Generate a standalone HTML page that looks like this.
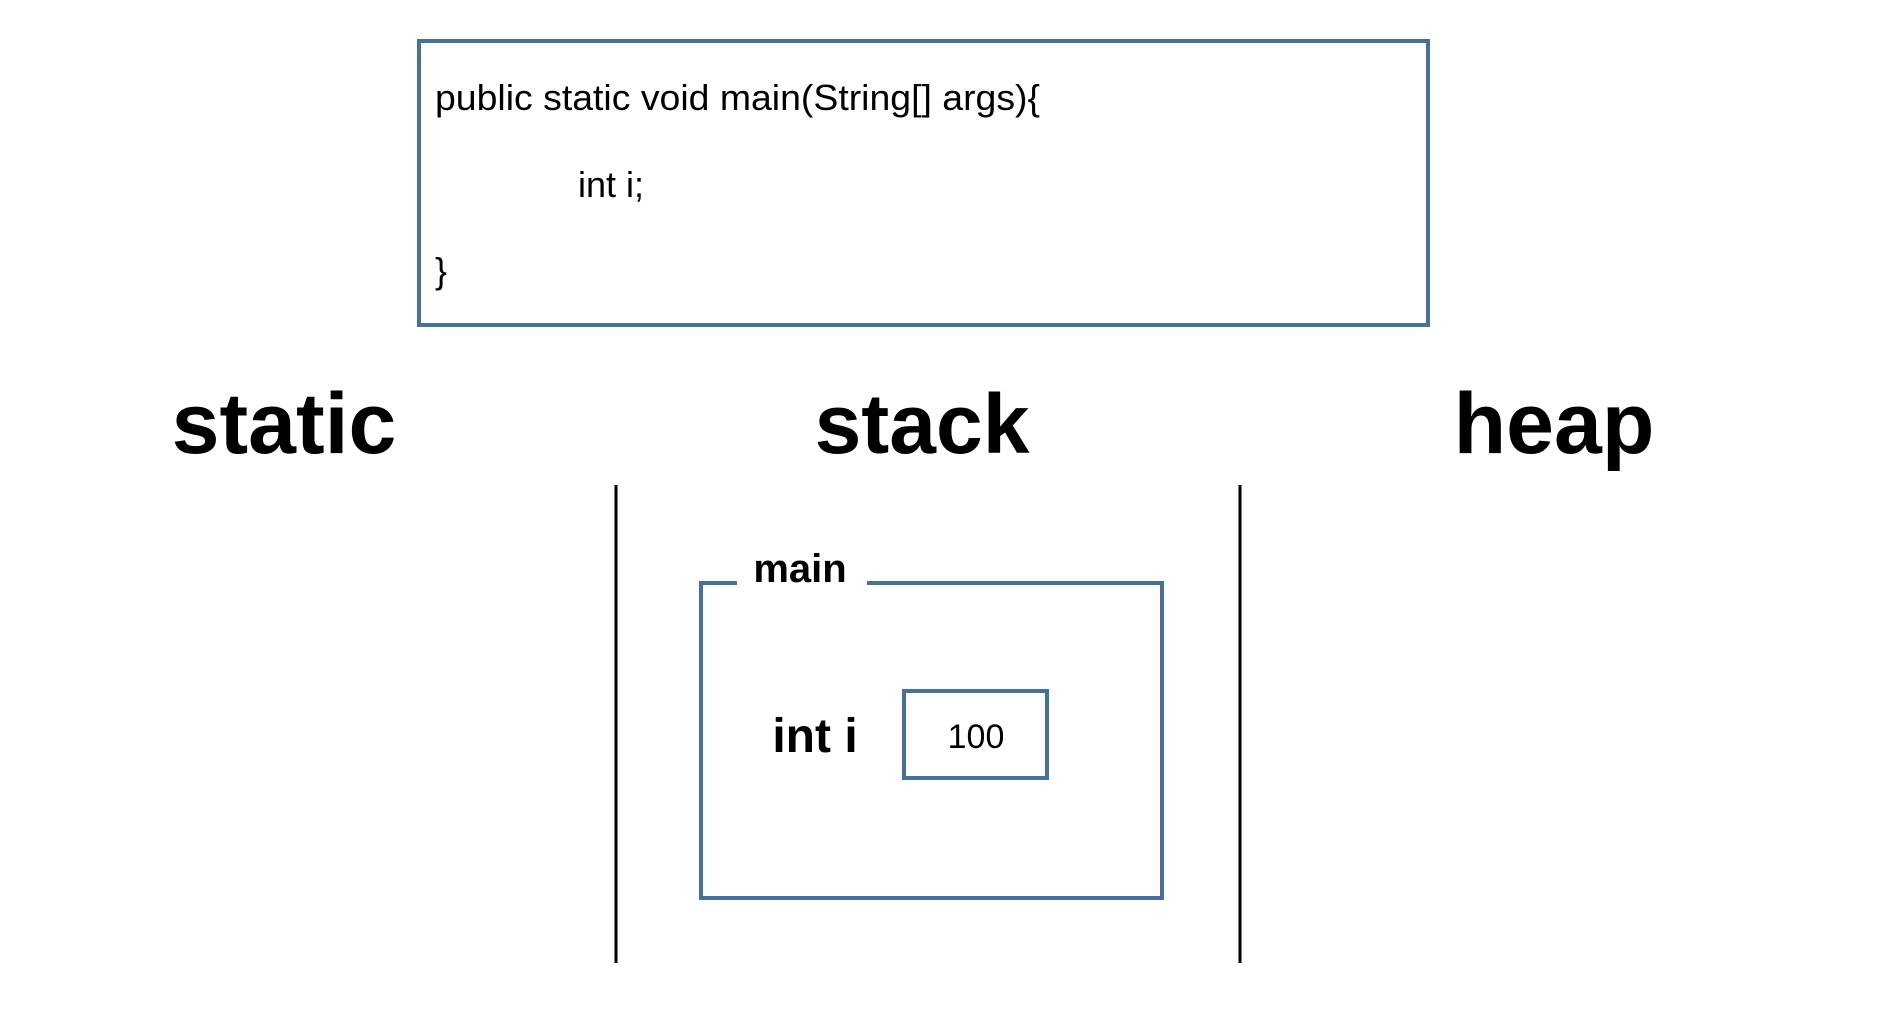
<!DOCTYPE html>
<html><head><meta charset="utf-8"><style>
html,body{margin:0;padding:0;background:#fff;width:1880px;height:1029px;overflow:hidden}
svg{display:block}
</style></head><body>
<svg width="1880" height="1029" xmlns="http://www.w3.org/2000/svg" font-family="Liberation Sans, sans-serif">
<rect x="419" y="41" width="1009" height="284" fill="none" stroke="#45719c" stroke-width="4"/>
<text x="435" y="110" font-size="36" textLength="605" lengthAdjust="spacingAndGlyphs">public static void main(String[] args){</text>
<text x="578" y="197" font-size="36">int i;</text>
<text x="435" y="283" font-size="36">}</text>
<text x="284" y="453" font-size="86" font-weight="bold" text-anchor="middle">static</text>
<text x="922" y="453" font-size="84" font-weight="bold" text-anchor="middle">stack</text>
<text x="1554" y="453" font-size="86" font-weight="bold" text-anchor="middle">heap</text>
<line x1="616" y1="485" x2="616" y2="963" stroke="#000" stroke-width="3"/>
<line x1="1240" y1="485" x2="1240" y2="963" stroke="#000" stroke-width="3"/>
<path d="M737 583 H701 V898 H1162 V583 H867" fill="none" stroke="#45719c" stroke-width="4"/>
<text x="800" y="582" font-size="40" font-weight="bold" text-anchor="middle">main</text>
<text x="815" y="752" font-size="48" font-weight="bold" text-anchor="middle">int i</text>
<rect x="904" y="691" width="143" height="87" fill="none" stroke="#45719c" stroke-width="4"/>
<text x="976" y="748" font-size="34" text-anchor="middle">100</text>
</svg>
</body></html>
